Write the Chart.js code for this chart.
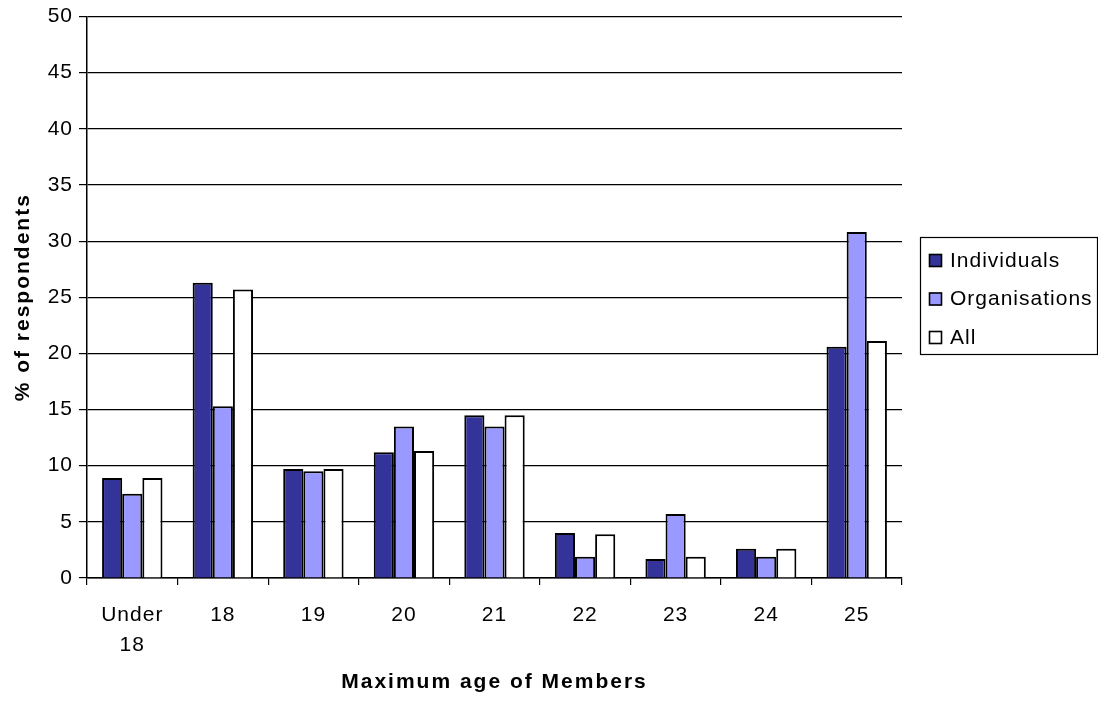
<!DOCTYPE html>
<html>
<head>
<meta charset="utf-8">
<script src="https://cdn.jsdelivr.net/npm/chart.js@4/dist/chart.umd.min.js"></script>
<style>
  html, body { margin: 0; padding: 0; background: #fff; }
  #wrap { width: 1098px; height: 704px; }
</style>
</head>
<body>
<div id="wrap"><canvas id="c" width="1098" height="704"></canvas></div>
<script>
// Maximum age of members, % of respondents
const categories = [["Under", "18"], "18", "19", "20", "21", "22", "23", "24", "25"];
const individuals = [8.9, 26.3, 9.7, 11.2, 14.5, 4.0, 1.7, 2.6, 20.6];
const organisations = [7.5, 15.3, 9.5, 13.5, 13.5, 1.9, 5.7, 1.9, 30.8];
const allRespondents = [8.9, 25.7, 9.7, 11.3, 14.5, 3.9, 1.9, 2.6, 21.1];
const seriesNames = ["Individuals", "Organisations", "All"];
const yTicks = [0, 5, 10, 15, 20, 25, 30, 35, 40, 45, 50];

const FONT = "'Liberation Sans', Arial, sans-serif";
const LABEL_SPACING = '1px';
const TITLE_SPACING = '2px';

// Letter spacing for tick labels, wider spacing for the axis titles
const textSpacing = {
  id: 'textSpacing',
  afterLayout(chart) {
    Object.values(chart.scales).forEach(scale => {
      if (scale._spacingWrapped) return;
      const orig = scale.drawTitle;
      scale.drawTitle = function () {
        const ctx = this.ctx;
        const prev = ctx.letterSpacing;
        ctx.letterSpacing = TITLE_SPACING;
        orig.apply(this, arguments);
        ctx.letterSpacing = prev;
      };
      scale._spacingWrapped = true;
    });
  },
  beforeDraw(chart) {
    chart.ctx.letterSpacing = LABEL_SPACING;
  }
};

// Boxed legend on the right, drawn from the dataset list
const boxedLegend = {
  id: 'boxedLegend',
  afterDraw(chart) {
    const ctx = chart.ctx;
    const x0 = 920.5, y0 = 237.5, w = 177, h = 117;
    ctx.save();
    ctx.letterSpacing = '1px';
    ctx.lineWidth = 1.2;
    ctx.strokeStyle = '#000';
    ctx.strokeRect(x0, y0, w, h);
    ctx.font = '21px ' + FONT;
    ctx.textBaseline = 'middle';
    chart.data.datasets.forEach((ds, i) => {
      const cy = 260 + i * 38.5;
      ctx.fillStyle = ds.backgroundColor;
      ctx.fillRect(929, cy - 6, 13, 13);
      ctx.strokeStyle = '#000';
      ctx.lineWidth = 1.6;
      ctx.strokeRect(929.5, cy - 5.5, 12, 12);
      ctx.fillStyle = '#000';
      ctx.fillText(ds.label, 950, cy + 1);
    });
    ctx.restore();
  }
};

new Chart(document.getElementById('c'), {
  type: 'bar',
  data: {
    labels: categories,
    datasets: [
      { label: seriesNames[0], data: individuals, backgroundColor: '#333399' },
      { label: seriesNames[1], data: organisations, backgroundColor: '#9999FF' },
      { label: seriesNames[2], data: allRespondents, backgroundColor: '#FFFFFF' }
    ].map(d => Object.assign(d, {
      borderColor: '#000',
      borderWidth: 2,
      barPercentage: 1.0,
      categoryPercentage: 0.667
    }))
  },
  options: {
    responsive: false,
    animation: false,
    devicePixelRatio: 1,
    layout: { padding: { top: 9, right: 196, left: 0, bottom: 0 } },
    plugins: {
      legend: { display: false },
      tooltip: { enabled: false }
    },
    scales: {
      x: {
        grid: {
          display: true,
          offset: true,
          drawOnChartArea: false,
          drawTicks: true,
          tickLength: 7,
          color: '#000',
          lineWidth: 1.2
        },
        border: { display: true, color: '#000', width: 1.5 },
        ticks: {
          color: '#000',
          font: { family: FONT, size: 21, lineHeight: 1.4 },
          padding: 16,
          maxRotation: 0,
          autoSkip: false
        },
        title: {
          display: true,
          text: 'Maximum age of Members',
          color: '#000',
          font: { family: FONT, size: 21, weight: 'bold' },
          padding: { top: 0, bottom: 9 }
        },
        afterFit(scale) { scale.height = 126; }
      },
      y: {
        min: 0,
        max: 50,
        afterBuildTicks(scale) { scale.ticks = yTicks.map(v => ({ value: v })); },
        grid: {
          color: '#000',
          lineWidth: 1.2,
          tickLength: 8,
          drawTicks: true
        },
        border: { display: true, color: '#000', width: 1.5 },
        ticks: {
          color: '#000',
          font: { family: FONT, size: 21, lineHeight: 1.0 },
          padding: 6
        },
        title: {
          display: true,
          text: '% of respondents',
          color: '#000',
          font: { family: FONT, size: 21, weight: 'bold' },
          padding: { top: 11, bottom: 0 }
        },
        afterFit(scale) { scale.width = 87; }
      }
    }
  },
  plugins: [textSpacing, boxedLegend]
});
</script>
</body>
</html>
